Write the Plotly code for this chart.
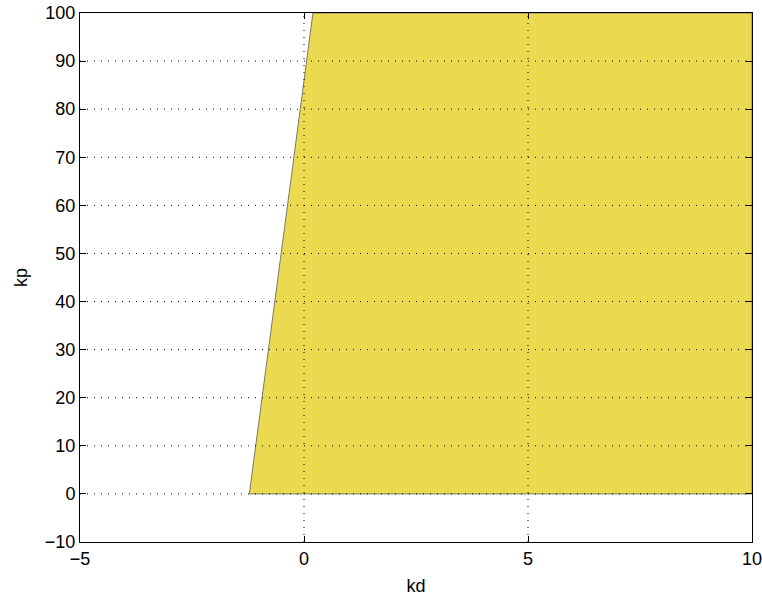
import plotly.graph_objects as go

# Data
kd_boundary = [-1.22, 0.2]      # kd at kp = 0 and kp = 100 (left edge of stable region)
kp_boundary = [0, 100]
kd_max = 10
x_ticks = [-5, 0, 5, 10]
y_ticks = [-10, 0, 10, 20, 30, 40, 50, 60, 70, 80, 90, 100]

poly_x = [kd_boundary[0], kd_boundary[1], kd_max, kd_max, kd_boundary[0]]
poly_y = [kp_boundary[0], kp_boundary[1], kp_boundary[1], kp_boundary[0], kp_boundary[0]]

fig = go.Figure()
fig.add_trace(go.Scatter(
    x=poly_x, y=poly_y, mode="lines", fill="toself",
    fillcolor="#EBD94F", line=dict(color="#7a7a6a", width=1),
    hoverinfo="skip", showlegend=False, cliponaxis=False,
))

shapes = []
for xv in x_ticks[1:-1]:
    shapes.append(dict(type="line", xref="x", yref="paper", x0=xv, x1=xv, y0=0, y1=1,
                       line=dict(color="black", width=1, dash="1px,6px"), layer="above"))
for yv in y_ticks[1:-1]:
    shapes.append(dict(type="line", xref="paper", yref="y", x0=0, x1=1, y0=yv, y1=yv,
                       line=dict(color="black", width=1, dash="1px,6px"), layer="above"))

font = dict(family="Liberation Sans, Arial, sans-serif", size=18, color="black")
axis_common = dict(
    showgrid=False, zeroline=False, showline=True, linecolor="black", linewidth=1,
    mirror="allticks", ticks="inside", ticklen=6, tickcolor="black", tickwidth=1,
    tickfont=font, layer="above traces", automargin=False, ticklabeloverflow="allow",
)

fig.update_layout(
    width=762, height=600,
    margin=dict(l=80, r=10, t=13, b=58, autoexpand=False),
    paper_bgcolor="white", plot_bgcolor="white",
    font=font,
    shapes=shapes,
    xaxis=dict(range=[x_ticks[0], x_ticks[-1]], tickvals=x_ticks,
               title=dict(text="kd", font=font, standoff=11), **axis_common),
    yaxis=dict(range=[y_ticks[0], y_ticks[-1]], tickvals=y_ticks,
               title=dict(text="kp", font=font, standoff=12), **axis_common),
)

fig.write_html("out.html")
